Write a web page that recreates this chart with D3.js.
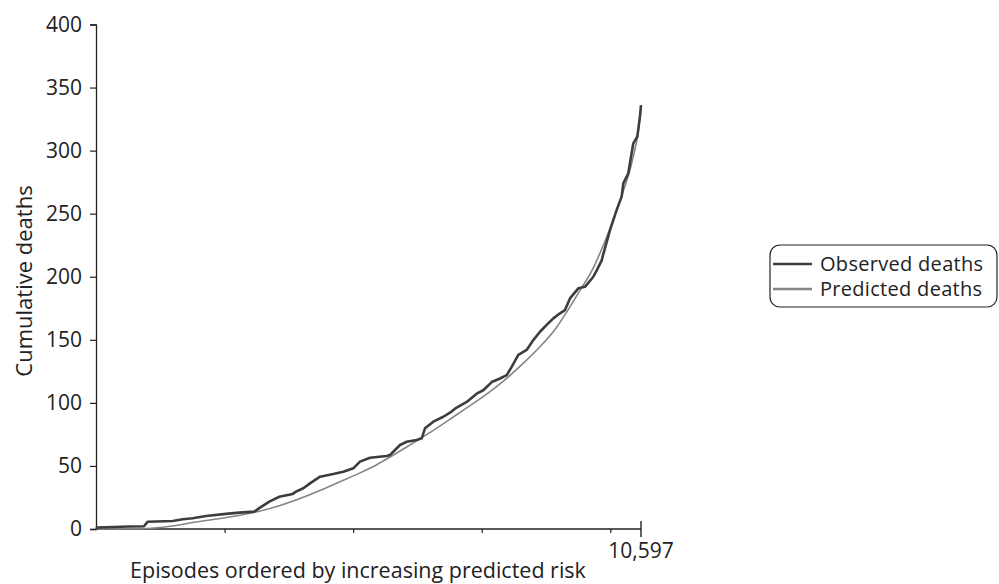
<!DOCTYPE html>
<html><head><meta charset="utf-8">
<script src="https://cdn.jsdelivr.net/npm/d3@7"></script>
<style>body{margin:0;background:#fff}svg{display:block}text{font-family:"Open Sans",sans-serif;fill:#222}</style>
</head><body><svg id="c" width="999" height="584"></svg>
<script>
const totalEpisodes = 10597;
const yTicks = [0,50,100,150,200,250,300,350,400];
const xMinorTicks = [2500,5000,7500,10000];
const observedEp = [0,33,642,933,1005,1491,1686,1880,2139,2528,2786,3078,3175,3370,3564,3825,3889,4031,4161,4356,4614,4809,5003,5133,5328,5652,5717,5911,6041,6236,6333,6397,6559,6753,6883,6980,7208,7402,7531,7694,7855,7986,8083,8211,8374,8503,8633,8763,8892,9022,9119,9216,9378,9508,9670,9736,9833,9864,9994,10124,10221,10253,10350,10447,10525,10577,10597];
const observedDeaths = [0,1.2,2,2.2,5.8,6.3,7.7,8.5,10.3,12,13,13.8,16.5,21.7,25.6,27.8,29.6,32.3,36.2,41.5,43.6,45.4,48.1,53.4,56.5,57.9,58.7,66.6,69.2,70.6,71.9,79.8,85.1,89,92.2,95.4,100.7,107.3,110,116.5,119.3,122,128.6,138,142,149.8,156.4,161.8,167,171,173.6,182.8,190.8,192,200,205,213,218,237,253,263.5,274,282,305.8,311,327,336];
const predictedEp = [0,908,1297,1944,2592,3111,3564,3889,4356,4744,5133,5458,5717,6041,6364,6625,6883,7208,7661,7986,8309,8633,8958,9152,9378,9670,9864,10059,10253,10416,10545,10597];
const predictedDeaths = [0,0.3,1.4,5.5,9.5,13.5,18.5,23,30.5,37.5,44.5,51,57,65,73.2,80,87,96,109,119.5,131.5,144.5,160,172,187,207,225,245,268,290,316,335];
const seriesNames = ["Observed deaths","Predicted deaths"];

const svg = d3.select("#c");
const x = d3.scaleLinear().domain([0,totalEpisodes]).range([96,641]);
const y = d3.scaleLinear().domain([0,400]).range([529,24.5]);

// y axis
const ya = svg.append("g").attr("transform","translate(96,0)")
  .call(d3.axisLeft(y).tickValues(yTicks).tickSize(6).tickPadding(8));
ya.select(".domain").attr("stroke","#222").attr("stroke-width",1.3);
ya.selectAll(".tick line").attr("stroke","#222").attr("stroke-width",1.2);
ya.selectAll("text").style("font-size","21px").style("fill","#222").attr("font-family",null);

// x axis
const xa = svg.append("g").attr("transform","translate(0,529)")
  .call(d3.axisBottom(x).tickValues(xMinorTicks).tickSize(4).tickFormat(""));
xa.select(".domain").attr("stroke","#222").attr("stroke-width",1.3).attr("d","M96,0H641");
xa.selectAll(".tick line").attr("stroke","#222").attr("stroke-width",1.2);
svg.append("line").attr("x1",x(totalEpisodes)).attr("x2",x(totalEpisodes)).attr("y1",521).attr("y2",537).attr("stroke","#222").attr("stroke-width",1.4);
svg.append("text").attr("x",x(totalEpisodes)).attr("y",558).attr("text-anchor","middle").style("font-size","21px").text(d3.format(",")(totalEpisodes));

// labels
svg.append("text").attr("transform","translate(32,281) rotate(-90)").attr("text-anchor","middle").style("font-size","22px").text("Cumulative deaths");
svg.append("text").attr("x",358).attr("y",578).attr("text-anchor","middle").style("font-size","21.5px").text("Episodes ordered by increasing predicted risk");

// lines
const pred = d3.range(predictedEp.length).map(i=>[predictedEp[i],predictedDeaths[i]]);
const obs = d3.range(observedEp.length).map(i=>[observedEp[i],observedDeaths[i]]);
svg.append("path").attr("d",d3.line().x(d=>x(d[0])).y(d=>y(d[1])).curve(d3.curveMonotoneX)(pred))
  .attr("fill","none").attr("stroke","#858585").attr("stroke-width",1.6);
svg.append("path").attr("d",d3.line().x(d=>x(d[0])).y(d=>y(d[1])).curve(d3.curveLinear)(obs))
  .attr("fill","none").attr("stroke","#3d3d3d").attr("stroke-width",2.6).attr("stroke-linejoin","round");

// legend
const lg = svg.append("g");
lg.append("rect").attr("x",770).attr("y",245).attr("width",227).attr("height",62).attr("rx",10)
  .attr("fill","none").attr("stroke","#222").attr("stroke-width",1.2);
const colors = ["#3d3d3d","#858585"];
seriesNames.forEach((n,i)=>{
  const yy = 264 + i*25;
  lg.append("line").attr("x1",773).attr("x2",812).attr("y1",yy).attr("y2",yy).attr("stroke",colors[i]).attr("stroke-width",2.6);
  lg.append("text").attr("x",820).attr("y",yy+7).style("font-size","20px").style("letter-spacing","0.3px").text(n);
});
</script></body></html>
